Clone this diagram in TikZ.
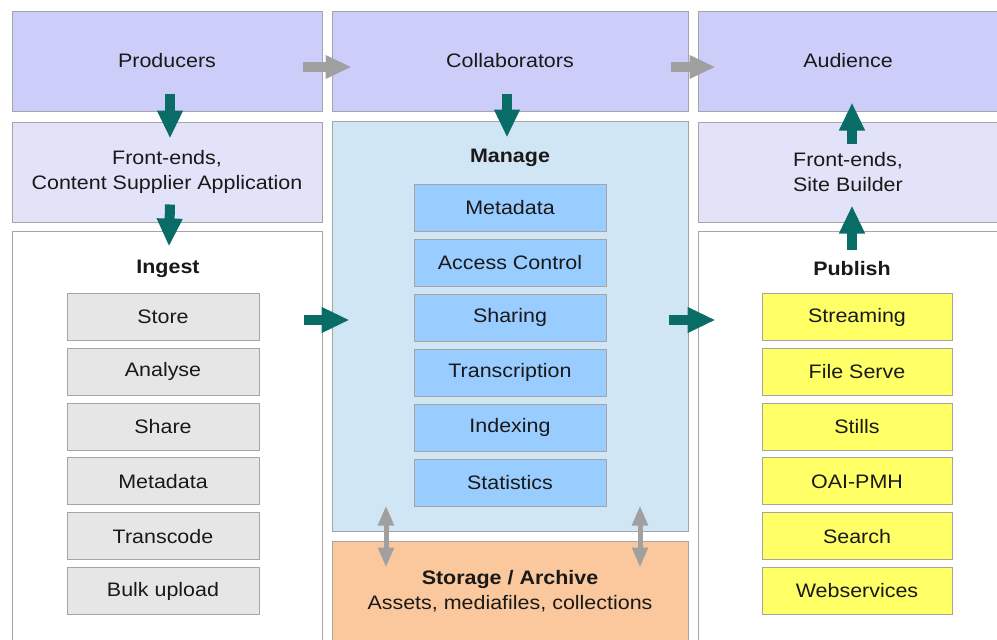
\documentclass[tikz,border=0pt]{standalone}
\usepackage{fontspec}
\setmainfont[FakeStretch=1.1]{Liberation Sans}
\usetikzlibrary{arrows.meta}
\definecolor{toplav}{RGB}{205,205,249}
\definecolor{felav}{RGB}{226,226,248}
\definecolor{manbg}{RGB}{208,230,244}
\definecolor{mansub}{RGB}{153,204,255}
\definecolor{ingsub}{RGB}{230,230,230}
\definecolor{pubsub}{RGB}{255,255,102}
\definecolor{storbg}{RGB}{250,200,156}
\definecolor{tealc}{RGB}{10,108,102}
\definecolor{arrgray}{RGB}{160,160,160}
\definecolor{bordc}{RGB}{165,165,165}
\definecolor{txt}{RGB}{25,25,25}
\newcommand{\mainsz}{\fontsize{19.5}{25}\selectfont}
\begin{document}
\begin{tikzpicture}[x=1pt,y=-1pt,
  bigbox/.style={draw=bordc, line width=1pt, inner sep=0pt, align=center, font=\mainsz, text=txt},
  subbox/.style={draw=bordc, line width=1pt, inner sep=0pt, minimum width=192pt, minimum height=47pt, font=\mainsz, text=txt},
  lbl/.style={font=\mainsz\bfseries, text=txt, inner sep=0pt},
  tealarr/.style={draw=tealc, line width=10pt, -{Triangle[width=24pt,length=28pt]}},
  grayarr/.style={draw=arrgray, line width=10pt, -{Triangle[width=22pt,length=26pt]}},
  dblarr/.style={draw=arrgray, line width=5pt, {Triangle[width=15pt,length=20pt]}-{Triangle[width=15pt,length=20pt]}}
]
\clip (0,0) rectangle (997,640);
\fill[white] (0,0) rectangle (997,640);

% top row
\node[bigbox, fill=toplav, minimum width=310pt, minimum height=100pt] (prod) at (167,61) {Producers};
\node[bigbox, fill=toplav, minimum width=356pt, minimum height=100pt] (coll) at (510,61) {Collaborators};
\node[bigbox, fill=toplav, minimum width=300pt, minimum height=100pt] (aud) at (848,61) {Audience};

% second row
\node[bigbox, fill=felav, minimum width=310pt, minimum height=100pt] (fe1) at (167,172) {Front-ends,\\Content Supplier Application};
\node[bigbox, fill=felav, minimum width=300pt, minimum height=100pt] (fe2) at (848,172) {Front-ends,\\Site Builder};

% big columns
\node[bigbox, fill=white, minimum width=310pt, minimum height=411pt] (ing) at (167,436.5) {};
\node[bigbox, fill=manbg, minimum width=356pt, minimum height=410pt] (man) at (510,326) {};
\node[bigbox, fill=white, minimum width=300pt, minimum height=411pt] (pub) at (848,436.5) {};
\node[bigbox, fill=storbg, minimum width=356pt, minimum height=101pt] (sto) at (510,591.5) {\textbf{Storage / Archive}\\Assets, mediafiles, collections};

% labels
\node[lbl] (lIng) at (168,269) {Ingest};
\node[lbl] (lMan) at (510,158) {Manage};
\node[lbl] (lPub) at (852,269) {Publish};

% ingest sub-boxes
\foreach \t [count=\i from 0] in {Store,Analyse,Share,Metadata,Transcode,Bulk upload}
  \node[subbox, fill=ingsub] (is\i) at (163,317+54.8*\i) {\t};
% manage sub-boxes
\foreach \t [count=\i from 0] in {Metadata,Access Control,Sharing,Transcription,Indexing,Statistics}
  \node[subbox, fill=mansub] (ms\i) at (510,207.5+55*\i) {\t};
% publish sub-boxes
\foreach \t [count=\i from 0] in {Streaming,File Serve,Stills,OAI-PMH,Search,Webservices}
  \node[subbox, fill=pubsub, minimum width=190pt] (ps\i) at (857,317+54.8*\i) {\t};

% gray arrows top
\draw[grayarr] ([xshift=-20pt,yshift=-6pt]prod.east) -- ([xshift=20pt,yshift=-6pt]coll.west);
\draw[grayarr] ([xshift=-18pt,yshift=-6pt]coll.east) -- ([xshift=18pt,yshift=-6pt]aud.west);

% teal vertical arrows
\draw[tealarr] ([xshift=3pt,yshift=18pt]prod.south) -- ([xshift=3pt,yshift=-17pt]fe1.north);
\draw[tealarr] ([xshift=3pt,yshift=18pt]fe1.south) -- ([xshift=2pt,yshift=-16pt]ing.north);
\draw[tealarr] ([xshift=-3pt,yshift=18pt]coll.south) -- ([xshift=-3pt,yshift=-17pt]man.north);
\draw[tealarr] ([xshift=4pt,yshift=-22pt]fe2.north) -- ([xshift=4pt,yshift=9pt]aud.south);
\draw[tealarr] ([xshift=4pt,yshift=-19pt]pub.north) -- ([xshift=4pt,yshift=17pt]fe2.south);

% teal horizontal arrows
\draw[tealarr] ([xshift=-19pt,yshift=116.5pt]ing.east) -- ([xshift=18pt,yshift=6pt]man.west);
\draw[tealarr] ([xshift=-20pt,yshift=6pt]man.east) -- ([xshift=18pt,yshift=116.5pt]pub.west);

% storage double arrows
\draw[dblarr] ([xshift=-124pt,yshift=26pt]man.south) -- ([xshift=-124pt,yshift=-27pt]sto.north);
\draw[dblarr] ([xshift=130pt,yshift=26pt]man.south) -- ([xshift=130pt,yshift=-27pt]sto.north);
\end{tikzpicture}
\end{document}
